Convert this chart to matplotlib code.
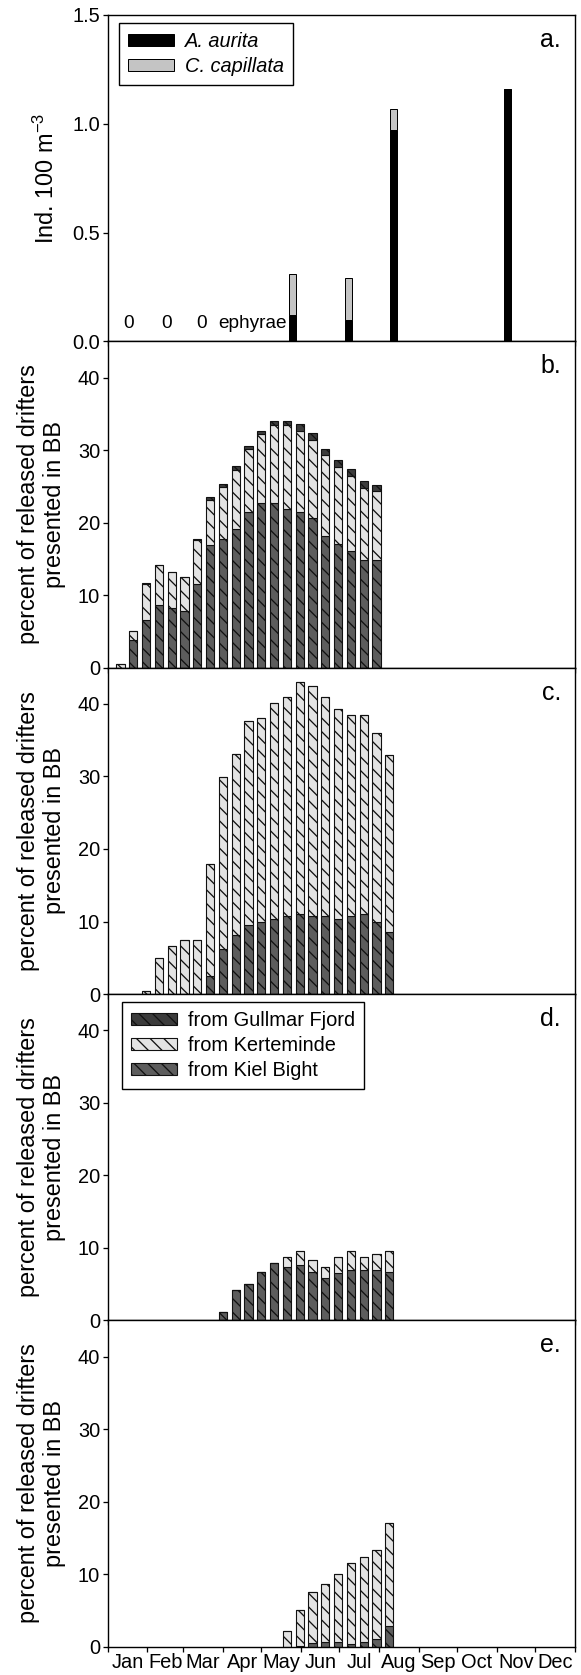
import matplotlib
matplotlib.use("Agg")
import matplotlib.pyplot as plt

# working at 82 dpi so the default hatch spacing matches the reference
DPI = 82


def pt(px):
    """pixel size -> points at the chosen dpi"""
    return px * 72.0 / DPI


plt.rcParams['font.family'] = ['Liberation Sans', 'DejaVu Sans']
plt.rcParams['hatch.linewidth'] = pt(1.3)
plt.rcParams['hatch.color'] = 'black'

# ---------------------------------------------------------------------
# data
# ---------------------------------------------------------------------
month_names = ['Jan', 'Feb', 'Mar', 'Apr', 'May', 'Jun',
               'Jul', 'Aug', 'Sep', 'Oct', 'Nov', 'Dec']
month_edges = [0, 31, 59, 90, 120, 151, 181, 212, 243, 273, 304, 334, 365]

# a. medusae abundance (Ind. 100 m-3)
a_days = [144, 188, 223, 312]
a_aurita = [0.12, 0.10, 0.97, 1.16]
a_capillata = [0.19, 0.19, 0.10, 0.0]
a_zero_days = [16, 46, 73]

# b.
b_days = [10, 20, 30, 40, 50, 60, 70, 80, 90, 100, 110,
          120, 130, 140, 150, 160, 170, 180, 190, 200, 210]
b_kiel = [0.0, 3.8, 6.6, 8.7, 8.2, 7.8, 11.6, 16.9, 17.8, 19.1, 21.4,
          22.7, 22.7, 21.9, 21.5, 20.7, 18.2, 17.0, 16.1, 14.8, 14.8]
b_kert = [0.45, 1.2, 5.0, 5.4, 5.0, 4.7, 6.0, 6.2, 7.1, 8.2, 8.8,
          9.5, 10.7, 11.5, 11.2, 10.7, 11.1, 10.7, 10.4, 10.0, 9.5]
b_gull = [0.0, 0.0, 0.1, 0.0, 0.0, 0.0, 0.2, 0.5, 0.4, 0.5, 0.4,
          0.5, 0.6, 0.6, 0.9, 1.0, 0.9, 1.0, 0.9, 0.9, 0.9]

# c.
c_days = [30, 40, 50, 60, 70, 80, 90, 100, 110, 120,
          130, 140, 150, 160, 170, 180, 190, 200, 210, 220]
c_kiel = [0.0, 0.0, 0.0, 0.0, 0.0, 2.5, 6.2, 8.2, 9.5, 10.0,
          10.3, 10.7, 11.1, 10.7, 10.8, 10.3, 10.7, 11.1, 10.0, 8.6]
c_kert = [0.4, 5.0, 6.6, 7.5, 7.5, 15.4, 23.7, 24.9, 28.1, 28.0,
          29.8, 30.3, 31.9, 31.8, 30.2, 29.0, 27.8, 27.4, 26.0, 24.4]
c_gull = [0.0] * 20

# d.
d_days = [90, 100, 110, 120, 130, 140, 150, 160, 170, 180, 190, 200, 210, 220]
d_kiel = [1.2, 4.2, 5.0, 6.6, 7.9, 7.4, 7.7, 6.6, 5.9, 6.5, 7.0, 7.0, 7.0, 6.6]
d_kert = [0.0, 0.0, 0.0, 0.0, 0.0, 1.3, 1.8, 1.7, 1.5, 2.2, 2.5, 1.8, 2.2, 2.9]
d_gull = [0.0] * 14

# e.
e_days = [140, 150, 160, 170, 180, 190, 200, 210, 220]
e_kiel = [0.0, 0.1, 0.5, 0.6, 0.7, 0.4, 0.7, 1.1, 2.8]
e_kert = [2.1, 4.9, 7.0, 8.1, 9.3, 11.2, 11.7, 12.2, 14.2]
e_gull = [0.0] * 9

panels = [
    ('b.', b_days, b_kiel, b_kert, b_gull),
    ('c.', c_days, c_kiel, c_kert, c_gull),
    ('d.', d_days, d_kiel, d_kert, d_gull),
    ('e.', e_days, e_kiel, e_kert, e_gull),
]

col_gull = '#3b3b3b'
col_kert = '#e3e3e3'
col_kiel = '#5d5d5d'

# ---------------------------------------------------------------------
# figure / axes layout (pixel based)
# ---------------------------------------------------------------------
W, H = 581, 1675
fig = plt.figure(figsize=(W / DPI, H / DPI), dpi=DPI)

x0, x1 = 107.7, 575.0
y_top, y_bot = 15.0, 1646.7
ph = (y_bot - y_top) / 5

TICK_FS = pt(20)
LAB_FS = pt(23.5)
LEG_FS = pt(20)
TAG_FS = pt(25)

leg_kw = dict(loc='upper left', borderaxespad=0, fancybox=False,
              framealpha=1, edgecolor='black', handlelength=2.3,
              handleheight=0.55, handletextpad=0.55, labelspacing=0.3,
              borderpad=0.45)


def make_axes(i):
    bottom = 1 - (y_top + (i + 1) * ph) / H
    ax = fig.add_axes([x0 / W, bottom, (x1 - x0) / W, ph / H])
    ax.set_xlim(0, 365)
    ax.set_xticks(month_edges)
    ax.set_xticklabels([])
    ax.tick_params(axis='both', which='major', direction='out',
                   length=pt(5), width=pt(1.3), labelsize=TICK_FS, pad=pt(2.5))
    for s in ax.spines.values():
        s.set_linewidth(pt(1.4))
    return ax


# ---- panel a ----
ax = make_axes(0)
ax.bar(a_days, a_aurita, width=5.5, color='black', edgecolor='black',
       linewidth=pt(1), label='A. aurita')
ax.bar(a_days, a_capillata, bottom=a_aurita, width=5.5, color='#c4c4c4',
       edgecolor='black', linewidth=pt(1), label='C. capillata')
for d in a_zero_days:
    ax.text(d, 0.08, '0', ha='center', va='center', fontsize=pt(19))
ax.text(86, 0.08, 'ephyrae', ha='left', va='center', fontsize=pt(19))
ax.set_ylim(0, 1.5)
ax.set_yticks([0.0, 0.5, 1.0, 1.5])
ax.set_yticklabels(['0.0', '0.5', '1.0', '1.5'])
ax.set_ylabel('Ind. 100 m$^{\\mathregular{-3}}$', fontsize=LAB_FS)
ax.yaxis.set_label_coords((59 - x0) / (x1 - x0), 0.5)
ax.text(0.97, 0.96, 'a.', transform=ax.transAxes, ha='right', va='top',
        fontsize=TAG_FS)
leg = ax.legend(bbox_to_anchor=(0.024, 0.976),
                prop={'style': 'italic', 'size': LEG_FS}, **leg_kw)
leg.get_frame().set_linewidth(pt(1.4))

# ---- panels b - e ----
for i, (tag, days, kiel, kert, gull) in enumerate(panels):
    ax = make_axes(i + 1)
    mid = [k + t for k, t in zip(kiel, kert)]
    kw = dict(width=6.4, edgecolor='#111111', linewidth=pt(1.1), hatch='\\\\')
    h_kiel = ax.bar(days, kiel, color=col_kiel, **kw)
    h_kert = ax.bar(days, kert, bottom=kiel, color=col_kert, **kw)
    h_gull = ax.bar(days, gull, bottom=mid, color=col_gull, **kw)
    ax.set_ylim(0, 45)
    ax.set_yticks([0, 10, 20, 30, 40])
    ax.set_ylabel('percent of released drifters\npresented in BB',
                  fontsize=LAB_FS, linespacing=1.15)
    ax.yaxis.set_label_coords((66 - x0) / (x1 - x0), 0.5)
    ax.text(0.97, 0.96, tag, transform=ax.transAxes, ha='right', va='top',
            fontsize=TAG_FS)
    if tag == 'd.':
        leg = ax.legend([h_gull, h_kert, h_kiel],
                        ['from Gullmar Fjord', 'from Kerteminde', 'from Kiel Bight'],
                        bbox_to_anchor=(0.031, 0.975),
                        prop={'size': LEG_FS}, **leg_kw)
        leg.get_frame().set_linewidth(pt(1.4))
    if tag == 'e.':
        centers = [(month_edges[k] + month_edges[k + 1]) / 2 for k in range(12)]
        ax.set_xticks(centers, minor=True)
        ax.set_xticklabels(month_names, minor=True)
        ax.tick_params(axis='x', which='minor', length=0, labelsize=TICK_FS,
                       pad=pt(6))

fig.savefig('out.png', dpi=DPI)
